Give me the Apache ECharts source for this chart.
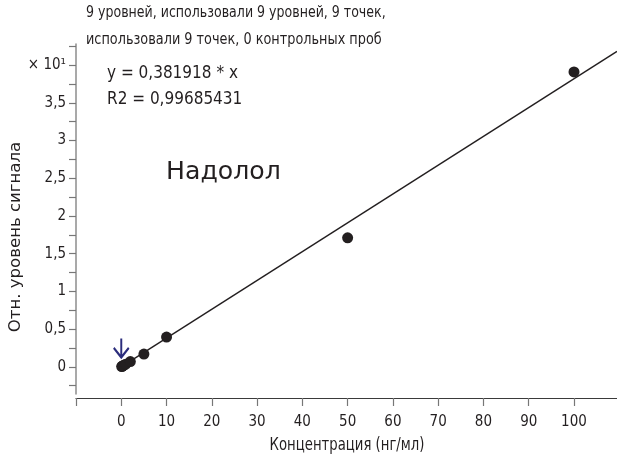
<!DOCTYPE html>
<html><head><meta charset="utf-8">
<style>html,body{margin:0;padding:0;background:#fff}#c{width:617px;height:461px}</style>
<script src="https://cdn.jsdelivr.net/npm/echarts@6/dist/echarts.min.js"></script>
</head><body><div id="c"></div>
<script>
// ---- data ----
const concentrations = [0.1, 0.2, 0.5, 1, 2, 5, 10, 50, 100];
const signals = [0.004, 0.008, 0.02, 0.035, 0.07, 0.17, 0.395, 1.71, 3.91]; // in ×10¹ units
const fitSlope = 0.0381918; // y = 0,381918 * x  (×10¹ units)
const fitX = [0, 109.5];
const xTicks = [-10, 0, 10, 20, 30, 40, 50, 60, 70, 80, 90, 100];
const xLabels = [0, 10, 20, 30, 40, 50, 60, 70, 80, 90, 100];
const yTicks = [-0.25, 0, 0.25, 0.5, 0.75, 1, 1.25, 1.5, 1.75, 2, 2.25, 2.5, 2.75, 3, 3.25, 3.5, 3.75, 4, 4.25];
const yLabels = [0, 0.5, 1, 1.5, 2, 2.5, 3, 3.5, 4];
const titleLines = ['9 уровней, использовали 9 уровней, 9 точек,', 'использовали 9 точек, 0 контрольных проб'];
const equationLines = ['y = 0,381918 * x', 'R2 = 0,99685431'];
const compoundName = 'Надолол';
const xName = 'Концентрация (нг/мл)';
const yName = 'Отн. уровень сигнала';
const arrowAt = [0, 0.25];

const FONT = "'Liberation Sans Narrow','DejaVu Sans Condensed',Roboto,sans-serif";
const TXT = '#231f20';

const chart = echarts.init(document.getElementById('c'), null, {renderer: 'canvas'});
chart.setOption({
  animation: false,
  backgroundColor: '#fff',
  grid: {left: 76, right: 0, top: 44, bottom: 67, containLabel: false},
  xAxis: {
    type: 'value', min: -10, max: 109.5, offset: 4,
    splitLine: {show: false},
    axisLine: {show: true, onZero: false, lineStyle: {color: '#3a3a3a', width: 1.2}},
    axisTick: {show: true, inside: false, length: 8, customValues: xTicks, lineStyle: {color: '#777', width: 1.2}},
    axisLabel: {show: true, customValues: xLabels, margin: 17, fontSize: 15, fontFamily: FONT, color: TXT}
  },
  yAxis: {
    type: 'value', min: -0.36, max: 4.28,
    splitLine: {show: false},
    axisLine: {show: true, onZero: false, lineStyle: {color: '#8c8c8c', width: 1.5}},
    axisTick: {show: true, inside: false, length: 7, customValues: yTicks, lineStyle: {color: '#777', width: 1.2}},
    axisLabel: {
      show: true, customValues: yLabels, margin: 10, fontSize: 15, fontFamily: FONT, color: TXT,
      formatter: v => Math.abs(v - 4) < 1e-9 ? '× 10¹' : String(v).replace('.', ',')
    }
  },
  graphic: [
    {type: 'text', x: 86, y: 13, scaleY: 1.1, style: {text: titleLines[0], font: '14px ' + FONT, fill: TXT, verticalAlign: 'middle'}},
    {type: 'text', x: 86, y: 40, scaleY: 1.1, style: {text: titleLines[1], font: '14.3px ' + FONT, fill: TXT, verticalAlign: 'middle'}},
    {type: 'text', x: 107, y: 74, style: {text: equationLines[0], font: '17px ' + FONT, fill: TXT, verticalAlign: 'middle'}},
    {type: 'text', x: 107, y: 100, style: {text: equationLines[1], font: '17px ' + FONT, fill: TXT, verticalAlign: 'middle'}},
    {type: 'text', x: 166, y: 172, scaleX: 1.12, style: {text: compoundName, font: '25px ' + FONT, fill: TXT, verticalAlign: 'middle'}},
    {type: 'text', x: 347, y: 446, scaleX: 0.92, scaleY: 1.05, style: {text: xName, font: '16px ' + FONT, fill: TXT, align: 'center', verticalAlign: 'middle'}},
    {type: 'text', x: 16, y: 237, rotation: Math.PI / 2, scaleX: 1.15, style: {text: yName, font: '16px ' + FONT, fill: TXT, align: 'center', verticalAlign: 'middle'}}
  ],
  series: [
    {
      type: 'line', data: fitX.map(x => [x, fitSlope * x]), symbol: 'none', silent: true, z: 2,
      lineStyle: {color: TXT, width: 1.4}
    },
    {
      type: 'scatter', data: concentrations.map((c, i) => [c, signals[i]]), symbolSize: 11, z: 3,
      itemStyle: {color: TXT, opacity: 1},
      markPoint: {
        silent: true,
        data: [{
          coord: arrowAt, symbol: 'path://M7,0L7,18M0,9L7,18L14,9', symbolSize: [15, 19],
          itemStyle: {color: 'none', borderColor: '#2b2d7c', borderWidth: 2.2},
          label: {show: false}
        }]
      }
    }
  ]
});
</script>
</body></html>
